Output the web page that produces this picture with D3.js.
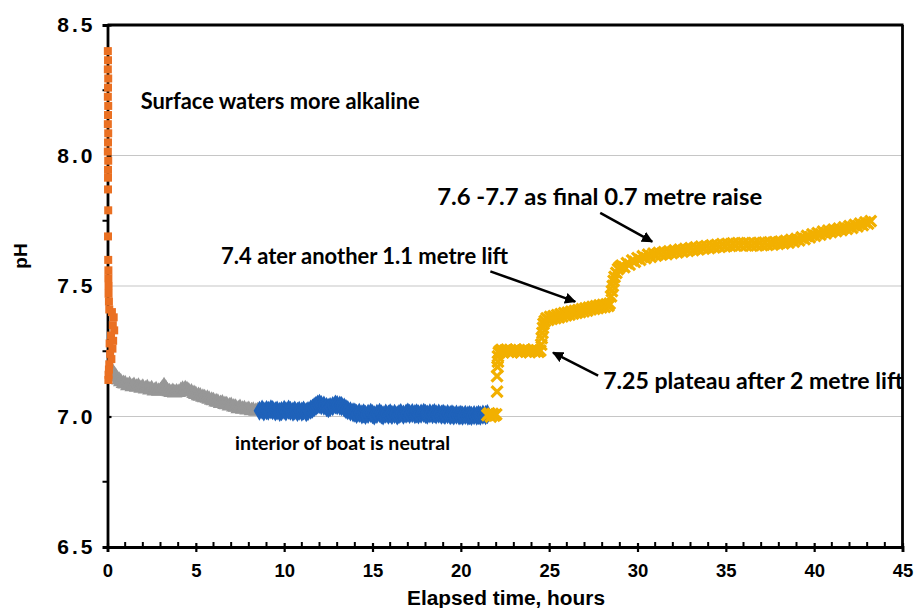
<!DOCTYPE html>
<html><head><meta charset="utf-8">
<script src="https://cdn.jsdelivr.net/npm/d3@7"></script>
<style>html,body{margin:0;padding:0;background:#fff;}svg{display:block;}</style>
</head><body>
<svg id="chart" width="917" height="608"></svg>
<script>
// ---- data: [elapsed hours, pH] ----
const orangeSeries = [[0.02,8.40],[0.03,8.365],[0.02,8.33],[0.04,8.295],[0.03,8.26],[0.02,8.225],[0.04,8.19],[0.03,8.155],[0.02,8.12],[0.04,8.085],[0.03,8.05],[0.02,8.015],[0.04,7.98],[0.03,7.945],[0.03,7.915],[0.03,7.87],[0.04,7.79],[0.03,7.69],[0.04,7.60],[0.05,7.56],[0.05,7.53],[0.06,7.50],[0.06,7.47],[0.08,7.44],[0.10,7.41],[0.25,7.40],[0.35,7.38],[0.30,7.35],[0.38,7.33],[0.20,7.31],[0.32,7.29],[0.12,7.28],[0.28,7.26],[0.15,7.24],[0.22,7.22],[0.10,7.20],[0.08,7.18],[0.06,7.16],[0.05,7.14]];
const greySeries = [[0.3,7.17],[0.4,7.16],[0.5,7.15],[0.65,7.14],[0.75,7.133],[0.9,7.126],[1.0,7.125],[1.15,7.118],[1.25,7.122],[1.4,7.114],[1.5,7.119],[1.65,7.112],[1.75,7.116],[1.9,7.108],[2.0,7.112],[2.15,7.105],[2.25,7.11],[2.4,7.102],[2.5,7.106],[2.65,7.098],[2.75,7.102],[2.9,7.097],[3.0,7.1],[3.1,7.108],[3.2,7.118],[3.3,7.108],[3.4,7.098],[3.5,7.095],[3.6,7.092],[3.7,7.096],[3.8,7.09],[3.9,7.094],[4.0,7.092],[4.15,7.1],[4.25,7.104],[4.4,7.106],[4.5,7.102],[4.6,7.098],[4.75,7.094],[4.9,7.088],[5.0,7.084],[5.15,7.08],[5.25,7.078],[5.4,7.074],[5.5,7.072],[5.65,7.07],[5.75,7.066],[5.9,7.062],[6.0,7.06],[6.15,7.056],[6.25,7.055],[6.4,7.05],[6.5,7.052],[6.65,7.046],[6.75,7.045],[6.9,7.04],[7.0,7.042],[7.15,7.036],[7.25,7.035],[7.4,7.03],[7.5,7.034],[7.65,7.028],[7.75,7.03],[7.9,7.025],[8.0,7.027],[8.15,7.022],[8.25,7.024],[8.4,7.02],[8.5,7.022]];
const blueSeries = [[8.6,7.022],[8.75,7.026],[8.85,7.02],[9.0,7.024],[9.1,7.022],[9.25,7.027],[9.35,7.024],[9.5,7.02],[9.6,7.023],[9.75,7.018],[9.85,7.021],[10.0,7.025],[10.1,7.02],[10.25,7.026],[10.35,7.022],[10.5,7.019],[10.6,7.023],[10.75,7.018],[10.85,7.022],[11.0,7.019],[11.1,7.023],[11.25,7.017],[11.35,7.021],[11.5,7.026],[11.6,7.03],[11.7,7.036],[11.8,7.041],[11.9,7.046],[12.0,7.048],[12.1,7.044],[12.25,7.042],[12.4,7.036],[12.5,7.032],[12.6,7.036],[12.75,7.04],[12.9,7.046],[13.0,7.044],[13.15,7.042],[13.25,7.04],[13.4,7.034],[13.5,7.028],[13.6,7.024],[13.75,7.02],[13.9,7.016],[14.0,7.015],[14.1,7.01],[14.25,7.014],[14.4,7.008],[14.5,7.012],[14.6,7.006],[14.75,7.01],[14.9,7.014],[15.0,7.009],[15.1,7.004],[15.25,7.01],[15.4,7.014],[15.5,7.008],[15.6,7.004],[15.75,7.011],[15.9,7.007],[16.0,7.012],[16.1,7.006],[16.25,7.01],[16.4,7.004],[16.5,7.009],[16.6,7.013],[16.75,7.007],[16.9,7.011],[17.0,7.015],[17.1,7.01],[17.25,7.013],[17.4,7.009],[17.5,7.012],[17.6,7.008],[17.75,7.011],[17.9,7.014],[18.0,7.01],[18.1,7.007],[18.25,7.012],[18.4,7.009],[18.5,7.013],[18.6,7.008],[18.75,7.011],[18.9,7.007],[19.0,7.01],[19.1,7.006],[19.25,7.009],[19.4,7.005],[19.5,7.008],[19.6,7.004],[19.75,7.007],[19.9,7.004],[20.0,7.006],[20.1,7.003],[20.25,7.006],[20.4,7.003],[20.5,7.005],[20.6,7.002],[20.75,7.005],[20.9,7.003],[21.0,7.006],[21.1,7.003],[21.25,7.007],[21.4,7.005],[21.5,7.009]];
const yellowSeries = [[21.5,7.005],[21.6,7.012],[21.7,7.0],[21.8,7.01],[21.9,7.003],[22.0,7.008],[22.05,7.095],[22.05,7.155],[22.08,7.19],[22.1,7.21],[22.1,7.23],[22.15,7.245],[22.2,7.25],
[22.3,7.255],[22.4,7.247],[22.5,7.252],[22.6,7.256],[22.7,7.248],[22.8,7.253],[22.9,7.246],[23.0,7.252],[23.1,7.256],[23.2,7.249],[23.3,7.254],[23.4,7.247],[23.5,7.252],[23.6,7.256],[23.7,7.249],[23.8,7.253],[23.9,7.247],[24.0,7.252],[24.1,7.256],[24.2,7.249],[24.3,7.253],[24.4,7.248],[24.5,7.252],
[24.55,7.275],[24.58,7.30],[24.62,7.32],[24.65,7.34],[24.68,7.355],
[24.75,7.365],[24.85,7.376],[24.95,7.37],[25.05,7.382],[25.15,7.374],[25.25,7.385],[25.35,7.377],[25.45,7.388],[25.55,7.38],[25.65,7.392],[25.75,7.384],[25.85,7.396],[25.95,7.387],[26.05,7.398],[26.15,7.39],[26.25,7.402],[26.35,7.394],[26.45,7.405],[26.55,7.397],[26.65,7.408],[26.75,7.4],[26.85,7.411],[26.95,7.403],[27.05,7.414],[27.15,7.406],[27.25,7.417],[27.35,7.41],[27.45,7.42],[27.55,7.412],[27.65,7.423],[27.75,7.415],[27.85,7.426],[27.95,7.418],[28.05,7.428],[28.15,7.42],[28.25,7.43],[28.35,7.424],[28.42,7.432],
[28.5,7.46],[28.55,7.48],[28.6,7.50],[28.65,7.52],[28.7,7.535],[28.8,7.55],
[28.9,7.565],[29.0,7.572],[29.1,7.578],[29.25,7.572],[29.4,7.588],[29.55,7.582],[29.7,7.598],[29.85,7.592],[30.0,7.607],[30.15,7.6],[30.3,7.614],[30.45,7.607],[30.6,7.62],[30.75,7.612],[30.9,7.624],[31.05,7.616],[31.2,7.627],[31.35,7.62],[31.5,7.63],[31.65,7.622],[31.8,7.633],[31.95,7.626],[32.1,7.636],[32.25,7.629],[32.4,7.639],[32.55,7.632],[32.7,7.642],[32.85,7.635],[33.0,7.645],[33.15,7.637],[33.3,7.648],[33.45,7.64],[33.6,7.651],[33.75,7.643],[33.9,7.653],[34.05,7.645],[34.2,7.656],[34.35,7.648],[34.5,7.658],[34.65,7.65],[34.8,7.66],[34.95,7.652],[35.1,7.661],[35.25,7.654],[35.4,7.663],[35.55,7.655],[35.7,7.664],[35.85,7.656],[36.0,7.664],[36.15,7.656],[36.3,7.663],[36.45,7.655],[36.6,7.664],[36.75,7.656],[36.9,7.665],[37.05,7.657],[37.2,7.666],[37.35,7.658],[37.5,7.667],[37.65,7.659],[37.8,7.668],[37.95,7.661],[38.1,7.67],[38.25,7.663],[38.4,7.673],[38.55,7.666],[38.7,7.677],[38.85,7.67],[39.0,7.681],[39.15,7.675],[39.3,7.686],[39.45,7.68],[39.6,7.692],[39.75,7.686],[39.9,7.698],[40.05,7.692],[40.2,7.703],[40.35,7.697],[40.5,7.708],[40.65,7.702],[40.8,7.712],[40.95,7.706],[41.1,7.716],[41.25,7.71],[41.4,7.72],[41.55,7.714],[41.7,7.725],[41.85,7.719],[42.0,7.729],[42.15,7.723],[42.3,7.734],[42.45,7.728],[42.6,7.739],[42.75,7.733],[42.9,7.744],[43.05,7.739],[43.2,7.749]];
const xTicks = [0,5,10,15,20,25,30,35,40,45];
const yTicks = [6.5,7.0,7.5,8.0,8.5];
const gridValues = [7.0,7.5,8.0];
// annotations: [text, hours, pH at baseline]
const annotations = [
  ["Surface waters more alkaline", 1.88, 8.18],
  ["7.6 -7.7 as final 0.7 metre raise", 18.66, 7.812],
  ["7.4 ater another 1.1 metre lift", 6.43, 7.586],
  ["7.25 plateau after 2 metre lift", 28.06, 7.107],
  ["interior of boat is neutral", 7.22, 6.87]
];
const annotationSizes = [22, 22, 22, 22, 18];
const annotationWidths = [279, 325, 287, 300, 215];
// arrows: [from hours, from pH, to hours, to pH]
const arrows = [
  [21.67,7.556,26.47,7.44],
  [27.89,7.78,30.83,7.67],
  [27.77,7.157,25.22,7.245]
];

const svg = d3.select("#chart");
const x = d3.scaleLinear().domain([0,45]).range([107.5,902.5]);
const y = d3.scaleLinear().domain([6.5,8.5]).range([547,25]);
const sans = "Liberation Sans, Arial, sans-serif";

// gridlines
svg.append("g").selectAll("line").data(gridValues).join("line")
  .attr("x1",x(0)).attr("x2",x(45)).attr("y1",d=>y(d)).attr("y2",d=>y(d))
  .attr("stroke","#c6c6c6").attr("stroke-width",1.2);

// frame top/right
svg.append("line").attr("x1",x(0)).attr("x2",x(45)+1).attr("y1",y(8.5)).attr("y2",y(8.5)).attr("stroke","#000").attr("stroke-width",2.8);
svg.append("line").attr("x1",x(45)).attr("x2",x(45)).attr("y1",y(8.5)).attr("y2",y(6.5)).attr("stroke","#000").attr("stroke-width",2.8);

// x axis
const xAxis = svg.append("g").attr("transform",`translate(0,${y(6.5)})`)
  .call(d3.axisBottom(x).tickValues(xTicks).tickFormat(d3.format("d")).tickSize(5).tickPadding(12));
xAxis.select(".domain").attr("stroke-width",2.8);
xAxis.selectAll(".tick line").attr("y1",-4).attr("stroke-width",2.2);
xAxis.selectAll("text").attr("font-family",sans).attr("font-weight","bold").attr("font-size",18.5).attr("fill","#000");
// x minor ticks
svg.append("g").selectAll("line").data(d3.range(1,45).filter(v=>v%5!==0)).join("line")
  .attr("x1",d=>x(d)).attr("x2",d=>x(d)).attr("y1",y(6.5)).attr("y2",y(6.5)-5)
  .attr("stroke","#000").attr("stroke-width",2);

// y axis
const yAxis = svg.append("g").attr("transform",`translate(${x(0)},0)`)
  .call(d3.axisLeft(y).tickValues(yTicks).tickFormat(d3.format(".1f")).tickSize(5).tickPadding(7));
yAxis.select(".domain").attr("stroke-width",2.8);
yAxis.selectAll(".tick line").attr("x2",4).attr("stroke-width",2.2);
yAxis.selectAll("text").attr("font-family",sans).attr("font-weight","bold").attr("font-size",21)
  .attr("fill","#000").style("letter-spacing","3px");
// y minor ticks
svg.append("g").selectAll("line").data([6.75,7.25,7.75,8.25]).join("line")
  .attr("x1",x(0)-5).attr("x2",x(0)).attr("y1",d=>y(d)).attr("y2",d=>y(d))
  .attr("stroke","#000").attr("stroke-width",2);

// series
const sq = d3.symbol().type(d3.symbolSquare).size(64)();
const tri = d3.symbol().type(d3.symbolTriangle).size(64)();
const dia = d3.symbol().type(d3.symbolDiamond).size(76)();
const xMark = "M-5.5,-5.5L5.5,5.5M-5.5,5.5L5.5,-5.5";

svg.append("g").selectAll("path").data(greySeries).join("path")
  .attr("d",tri).attr("transform",d=>`translate(${x(d[0])},${y(d[1])})`).attr("fill","#979797").attr("stroke","#979797").attr("stroke-width",2);
svg.append("g").selectAll("path").data(blueSeries).join("path")
  .attr("d",dia).attr("transform",d=>`translate(${x(d[0])},${y(d[1])})`).attr("fill","#1f62ba").attr("stroke","#1f62ba").attr("stroke-width",2);
svg.append("g").selectAll("path").data(yellowSeries).join("path")
  .attr("d",xMark).attr("transform",d=>`translate(${x(d[0])},${y(d[1])})`).attr("fill","none").attr("stroke","#f2b000").attr("stroke-width",3.2);
svg.append("g").selectAll("path").data(orangeSeries).join("path")
  .attr("d",sq).attr("transform",d=>`translate(${x(d[0])},${y(d[1])})`).attr("fill","#ea7022");

// annotations
svg.append("g").selectAll("text").data(annotations).join("text")
  .attr("x",d=>x(d[1])).attr("y",d=>y(d[2])).text(d=>d[0])
  .attr("font-family","Lato, 'Open Sans', sans-serif").attr("font-weight","bold")
  .attr("font-size",(d,i)=>annotationSizes[i]).attr("textLength",(d,i)=>annotationWidths[i])
  .attr("lengthAdjust","spacingAndGlyphs").attr("fill","#000");

// arrows
svg.append("defs").append("marker").attr("id","ah").attr("viewBox","0 0 10 10")
  .attr("refX",9).attr("refY",5).attr("markerWidth",4.5).attr("markerHeight",4.5)
  .attr("orient","auto").attr("markerUnits","strokeWidth")
  .append("path").attr("d","M0,0L10,5L0,10Z").attr("fill","#000");
svg.append("g").selectAll("line").data(arrows).join("line")
  .attr("x1",d=>x(d[0])).attr("y1",d=>y(d[1])).attr("x2",d=>x(d[2])).attr("y2",d=>y(d[3]))
  .attr("stroke","#000").attr("stroke-width",2.5).attr("marker-end","url(#ah)");

// axis titles
svg.append("text").attr("transform",`translate(27,256) rotate(-90)`).attr("text-anchor","middle")
  .attr("font-family",sans).attr("font-weight","bold").attr("font-size",19).text("pH");
svg.append("text").attr("x",506).attr("y",605).attr("text-anchor","middle")
  .attr("font-family",sans).attr("font-weight","bold").attr("font-size",20)
  .attr("textLength",198).attr("lengthAdjust","spacingAndGlyphs").text("Elapsed time, hours");
</script>
</body></html>
